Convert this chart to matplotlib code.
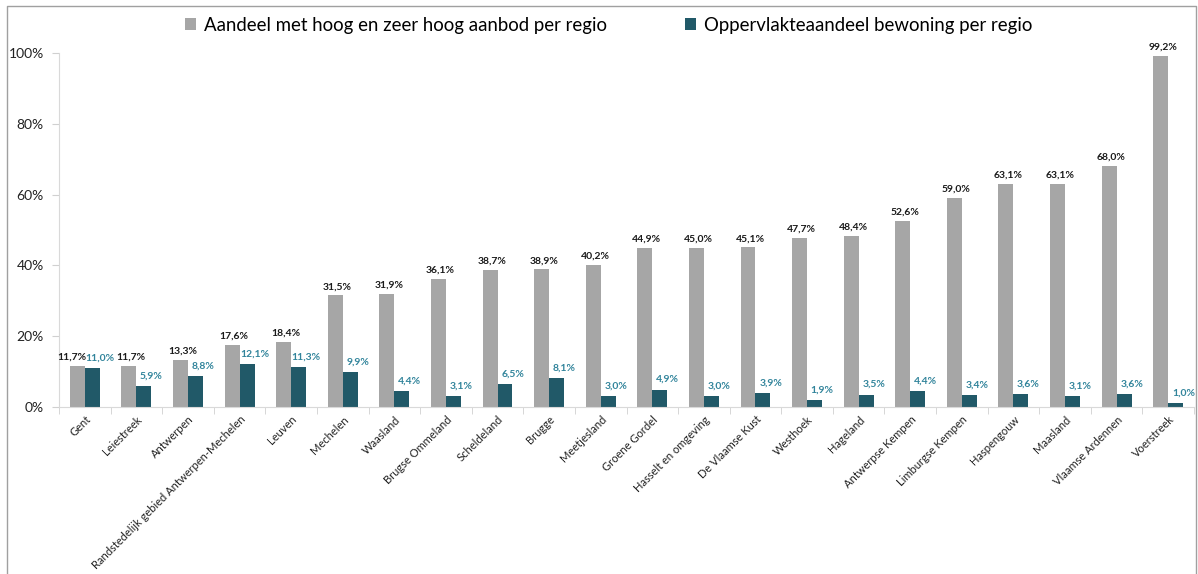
import matplotlib
matplotlib.use('Agg')
import matplotlib.pyplot as plt
import numpy as np
from matplotlib.lines import Line2D

plt.rcParams['font.family'] = ['Lato', 'DejaVu Sans']

# regio's en waarden (in %)
regios = ['Gent', 'Leiestreek', 'Antwerpen', 'Randstedelijk gebied Antwerpen-Mechelen',
          'Leuven', 'Mechelen', 'Waasland', 'Brugse Ommeland', 'Scheldeland', 'Brugge',
          'Meetjesland', 'Groene Gordel', 'Hasselt en omgeving', 'De Vlaamse Kust',
          'Westhoek', 'Hageland', 'Antwerpse Kempen', 'Limburgse Kempen', 'Haspengouw',
          'Maasland', 'Vlaamse Ardennen', 'Voerstreek']
aanbod = [11.7, 11.7, 13.3, 17.6, 18.4, 31.5, 31.9, 36.1, 38.7, 38.9, 40.2, 44.9,
          45.0, 45.1, 47.7, 48.4, 52.6, 59.0, 63.1, 63.1, 68.0, 99.2]
bewoning = [11.0, 5.9, 8.8, 12.1, 11.3, 9.9, 4.4, 3.1, 6.5, 8.1, 3.0, 4.9,
            3.0, 3.9, 1.9, 3.5, 4.4, 3.4, 3.6, 3.1, 3.6, 1.0]
yticks = [0, 20, 40, 60, 80, 100]

grijs = '#A6A6A6'
teal = '#215968'
teal_label = '#31849B'

fig = plt.figure(figsize=(11.98, 5.74), dpi=100)
ax = fig.add_axes([59 / 1198, 1 - 407 / 574, 1135 / 1198, 354 / 574])

x = np.arange(len(regios))
w = 0.29
b1 = ax.bar(x - w / 2, aanbod, w, color=grijs, label='Aandeel met hoog en zeer hoog aanbod per regio')
b2 = ax.bar(x + w / 2, bewoning, w, color=teal, label='Oppervlakteaandeel bewoning per regio')

for i, (xi, v) in enumerate(zip(x, aanbod)):
    dx = -4 if i == 0 else 1.5  # Gent: label iets naar links
    ax.annotate(f'{v:.1f}%'.replace('.', ','), (xi - w / 2, v), xytext=(dx, 3),
                textcoords='offset points', ha='center', va='bottom',
                fontsize=7.5, fontweight='bold', color='#1a1a1a', annotation_clip=False)
for xi, v in zip(x, bewoning):
    ax.annotate(f'{v:.1f}%'.replace('.', ','), (xi + w / 2, v), xytext=(5.5, 4),
                textcoords='offset points', ha='center', va='bottom',
                fontsize=7.5, fontweight='bold', color=teal_label, annotation_clip=False)

ax.set_xlim(-0.5, len(regios) - 0.5)
ax.set_ylim(0, 100)
ax.set_yticks(yticks)
ax.set_yticklabels([f'{t}%' for t in yticks], fontsize=10, color='#222222')
ax.set_xticks(x)
ax.set_xticklabels(regios, rotation=45, ha='right', rotation_mode='anchor',
                   fontsize=8, color='#222222')
ax.tick_params(axis='x', length=0, pad=5)
ax.set_xticks(np.arange(-0.5, len(regios)), minor=True)
ax.tick_params(axis='x', which='minor', length=5, color='#D0D0D0', direction='out')
ax.tick_params(axis='y', length=5, color='#D0D0D0', pad=6)

for s in ['top', 'right']:
    ax.spines[s].set_visible(False)
ax.spines['left'].set_color('#D9D9D9')
ax.spines['bottom'].set_color('#D9D9D9')

fig.legend(handles=[b1, b2], loc='center', bbox_to_anchor=(0.508, 0.956), ncol=2,
           frameon=False, fontsize=13.4, handlelength=0.6, handleheight=0.6,
           handletextpad=0.4, columnspacing=4.2)

# rand rond de grafiek
fig.add_artist(Line2D([7 / 1198, 7 / 1198, 1196 / 1198, 1196 / 1198],
                      [0, 1 - 6 / 574, 1 - 6 / 574, 0],
                      transform=fig.transFigure, color='#A0A0A0', lw=1))

plt.savefig('out.png', dpi=100)
